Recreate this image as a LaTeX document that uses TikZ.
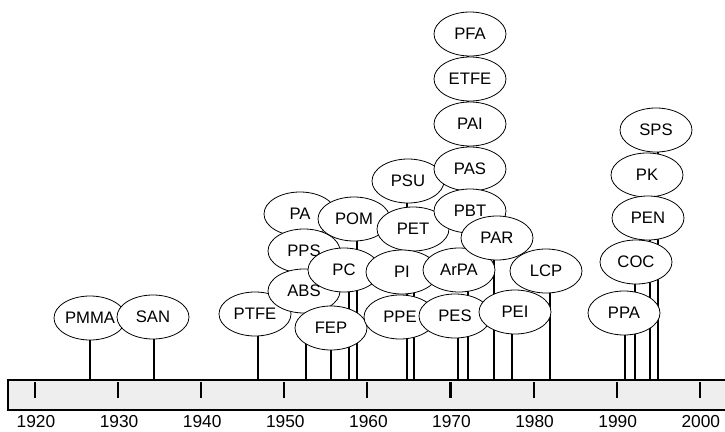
\documentclass[tikz,border=0pt]{standalone}
\usepackage{fontspec}
\setmainfont{Liberation Sans}
\usepackage{tikz}
\usetikzlibrary{shapes.geometric}
\pgfdeclarelayer{background}
\pgfsetlayers{background,main}

\tikzset{
  poly/.style={ellipse,draw,fill=white,line width=0.6pt,inner sep=0pt,
    minimum width=54pt,minimum height=33pt,font=\fontsize{12.5}{14}\selectfont},
  stem/.style={line width=0.9pt},
  yearlbl/.style={font=\fontsize{13}{15}\selectfont},
}

\begin{document}
\begin{tikzpicture}[x=0.75pt,y=-0.75pt]
    \useasboundingbox (0,0) rectangle (725,432);

    % time bar
    \fill[gray!13] (8,380) rectangle (725,410);
    \draw[line width=0.9pt] (725,380) -- (8,380) -- (8,410) -- (725,410);
    \foreach \yr in {1920,1930,...,2000} {
        \coordinate (t\yr) at ({35+(\yr-1920)*8.31},380);
        \draw[line width=1.6pt] (t\yr) ++(0,2) -- ++(0,16);
        \node[yearlbl] (y\yr) at ({36+(\yr-1920)*8.31},422) {\yr};
    }

    % polymers, left to right
    \node[poly] (pmma) at (90,318) {PMMA};
    \node[poly] (san) at (153,317) {SAN};
    \node[poly] (ptfe) at (255,314) {PTFE};
    \node[poly] (pa) at (300,214) {PA};
    \node[poly] (pps) at (304,251) {PPS};
    \node[poly] (abs) at (304,291) {ABS};
    \node[poly] (pom) at (354,219) {POM};
    \node[poly] (pc) at (344,270) {PC};
    \node[poly] (fep) at (331,328) {FEP};
    \node[poly] (psu) at (408,181) {PSU};
    \node[poly] (pet) at (413,229) {PET};
    \node[poly] (pi) at (402,272) {PI};
    \node[poly] (ppe) at (400,317) {PPE};
    \node[poly] (pfa) at (470,34) {PFA};
    \node[poly] (etfe) at (470,79) {ETFE};
    \node[poly] (pai) at (470,124) {PAI};
    \node[poly] (pas) at (470,169) {PAS};
    \node[poly] (pbt) at (470,211) {PBT};
    \node[poly] (arpa) at (459,270) {ArPA};
    \node[poly] (pes) at (455,316) {PES};
    \node[poly] (par) at (497,238) {PAR};
    \node[poly] (lcp) at (546,271) {LCP};
    \node[poly] (pei) at (515,312) {PEI};
    \node[poly] (sps) at (656,130) {SPS};
    \node[poly] (pk) at (647,175) {PK};
    \node[poly] (pen) at (648,218) {PEN};
    \node[poly] (coc) at (636,262) {COC};
    \node[poly] (ppa) at (624,313) {PPA};

    % stems down to the bar
    \begin{pgfonlayer}{background}
    \foreach \n/\sx in {pmma/90,san/154,ptfe/258,pa/306,pps/306,abs/306,
        pom/357,pc/349,fep/331,psu/407,pet/414,pi/414,ppe/407,
        pfa/468,etfe/468,pai/468,pas/468,pbt/468,arpa/468,pes/458,
        par/494,lcp/550,pei/512,sps/658,pk/658,pen/650,coc/635,ppa/625} {
        \coordinate (\n-foot) at (\sx,380);
        \draw[stem] (\n-foot) -- (\n-foot |- \n);
    }
    \end{pgfonlayer}
\end{tikzpicture}
\end{document}
